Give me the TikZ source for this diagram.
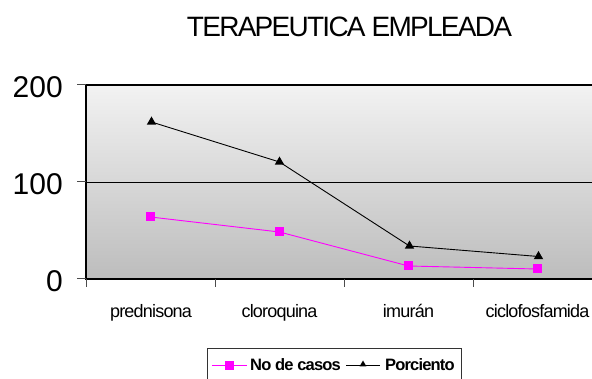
\documentclass[tikz,border=0pt]{standalone}
\usepackage{fontspec}
\setmainfont{Liberation Sans}
\newfontfamily\titlefont[LetterSpace=-6.2]{Liberation Sans}
\newfontfamily\catfont[LetterSpace=-4.4]{Liberation Sans}
\newfontfamily\legfont[LetterSpace=-5]{Liberation Sans}
\usetikzlibrary{shapes.geometric}
\definecolor{mag}{RGB}{255,0,255}
\begin{document}
\begin{tikzpicture}[x=1pt,y=-1pt,
  sq/.style={draw=none,fill=mag,minimum size=9pt,inner sep=0pt},
  tri/.style={regular polygon,regular polygon sides=3,draw=none,fill=black,minimum size=11pt,inner sep=0pt},
  axnum/.style={font=\fontsize{30}{32}\selectfont,anchor=base east,inner sep=0pt},
  catlab/.style={font=\catfont\fontsize{18}{20}\selectfont,anchor=base,inner sep=0pt},
  legtxt/.style={font=\legfont\fontsize{16.5}{18}\selectfont\bfseries,anchor=base west,inner sep=0pt}]
\useasboundingbox (0,0) rectangle (592,379);
\clip (0,0) rectangle (592,379);
% plot area
\shade[top color=white!95!black,bottom color=white!74!black] (86,85) rectangle (604,279);
\draw[line width=0.8pt] (86,182) -- (604,182);
\draw[line width=2pt] (604,85) -- (86,85) -- (86,279) -- (604,279);
% ticks
\foreach \yy in {85,182,279} \draw[line width=1pt,black!70] (77,\yy) -- (86,\yy);
\foreach \xx in {86,215,344,473} \draw[line width=1pt,black!70] (\xx,279) -- (\xx,287);
% axis numbers
\node[axnum] (n200) at (63,97.5) {200};
\node[axnum] (n100) at (63,194.5) {100};
\node[axnum] (n0) at (63,292) {0};
% title
\node[font=\titlefont\fontsize{28}{30}\selectfont,anchor=base,inner sep=0pt] (title) at (349.5,37) {TERAPEUTICA EMPLEADA};
% categories
\node[catlab] (k1) at (151,318) {prednisona};
\node[catlab] (k2) at (279.5,318) {cloroquina};
\node[catlab] (k3) at (408.5,318) {imurán};
\node[catlab] (k4) at (537.5,318) {ciclofosfamida};
% series coordinates
\coordinate (c1) at (150.5,217);
\coordinate (c2) at (279.5,232);
\coordinate (c3) at (408.5,266);
\coordinate (c4) at (537.5,269);
\coordinate (p1) at (151.5,122);
\coordinate (p2) at (279.5,162);
\coordinate (p3) at (409.5,246);
\coordinate (p4) at (538.5,256.5);
\draw[mag,line width=0.9pt] (c1) -- (c2) -- (c3) -- (c4);
\draw[black,line width=0.9pt] (p1) -- (p2) -- (p3) -- (p4);
\foreach \i in {1,...,4} {
  \node[sq] (mc\i) at (c\i) {};
  \node[tri] (mp\i) at (p\i) {};
}
% legend
\draw[line width=0.8pt,black!80] (207,390) -- (207,348) -- (461,348) -- (461,390);
\coordinate (l1a) at (212,365.5);
\coordinate (l1b) at (247,365.5);
\coordinate (l2a) at (346,365.5);
\coordinate (l2b) at (380,365.5);
\draw[mag,line width=0.9pt] (l1a) -- (l1b);
\draw[black,line width=0.9pt] (l2a) -- (l2b);
\node[sq] (lm1) at (229.5,365.5) {};
\node[tri,minimum size=8pt] (lm2) at (363,364.5) {};
\node[legtxt] (lt1) at (250,371) {No de casos};
\node[legtxt] (lt2) at (385,371) {Porciento};
\end{tikzpicture}
\end{document}
